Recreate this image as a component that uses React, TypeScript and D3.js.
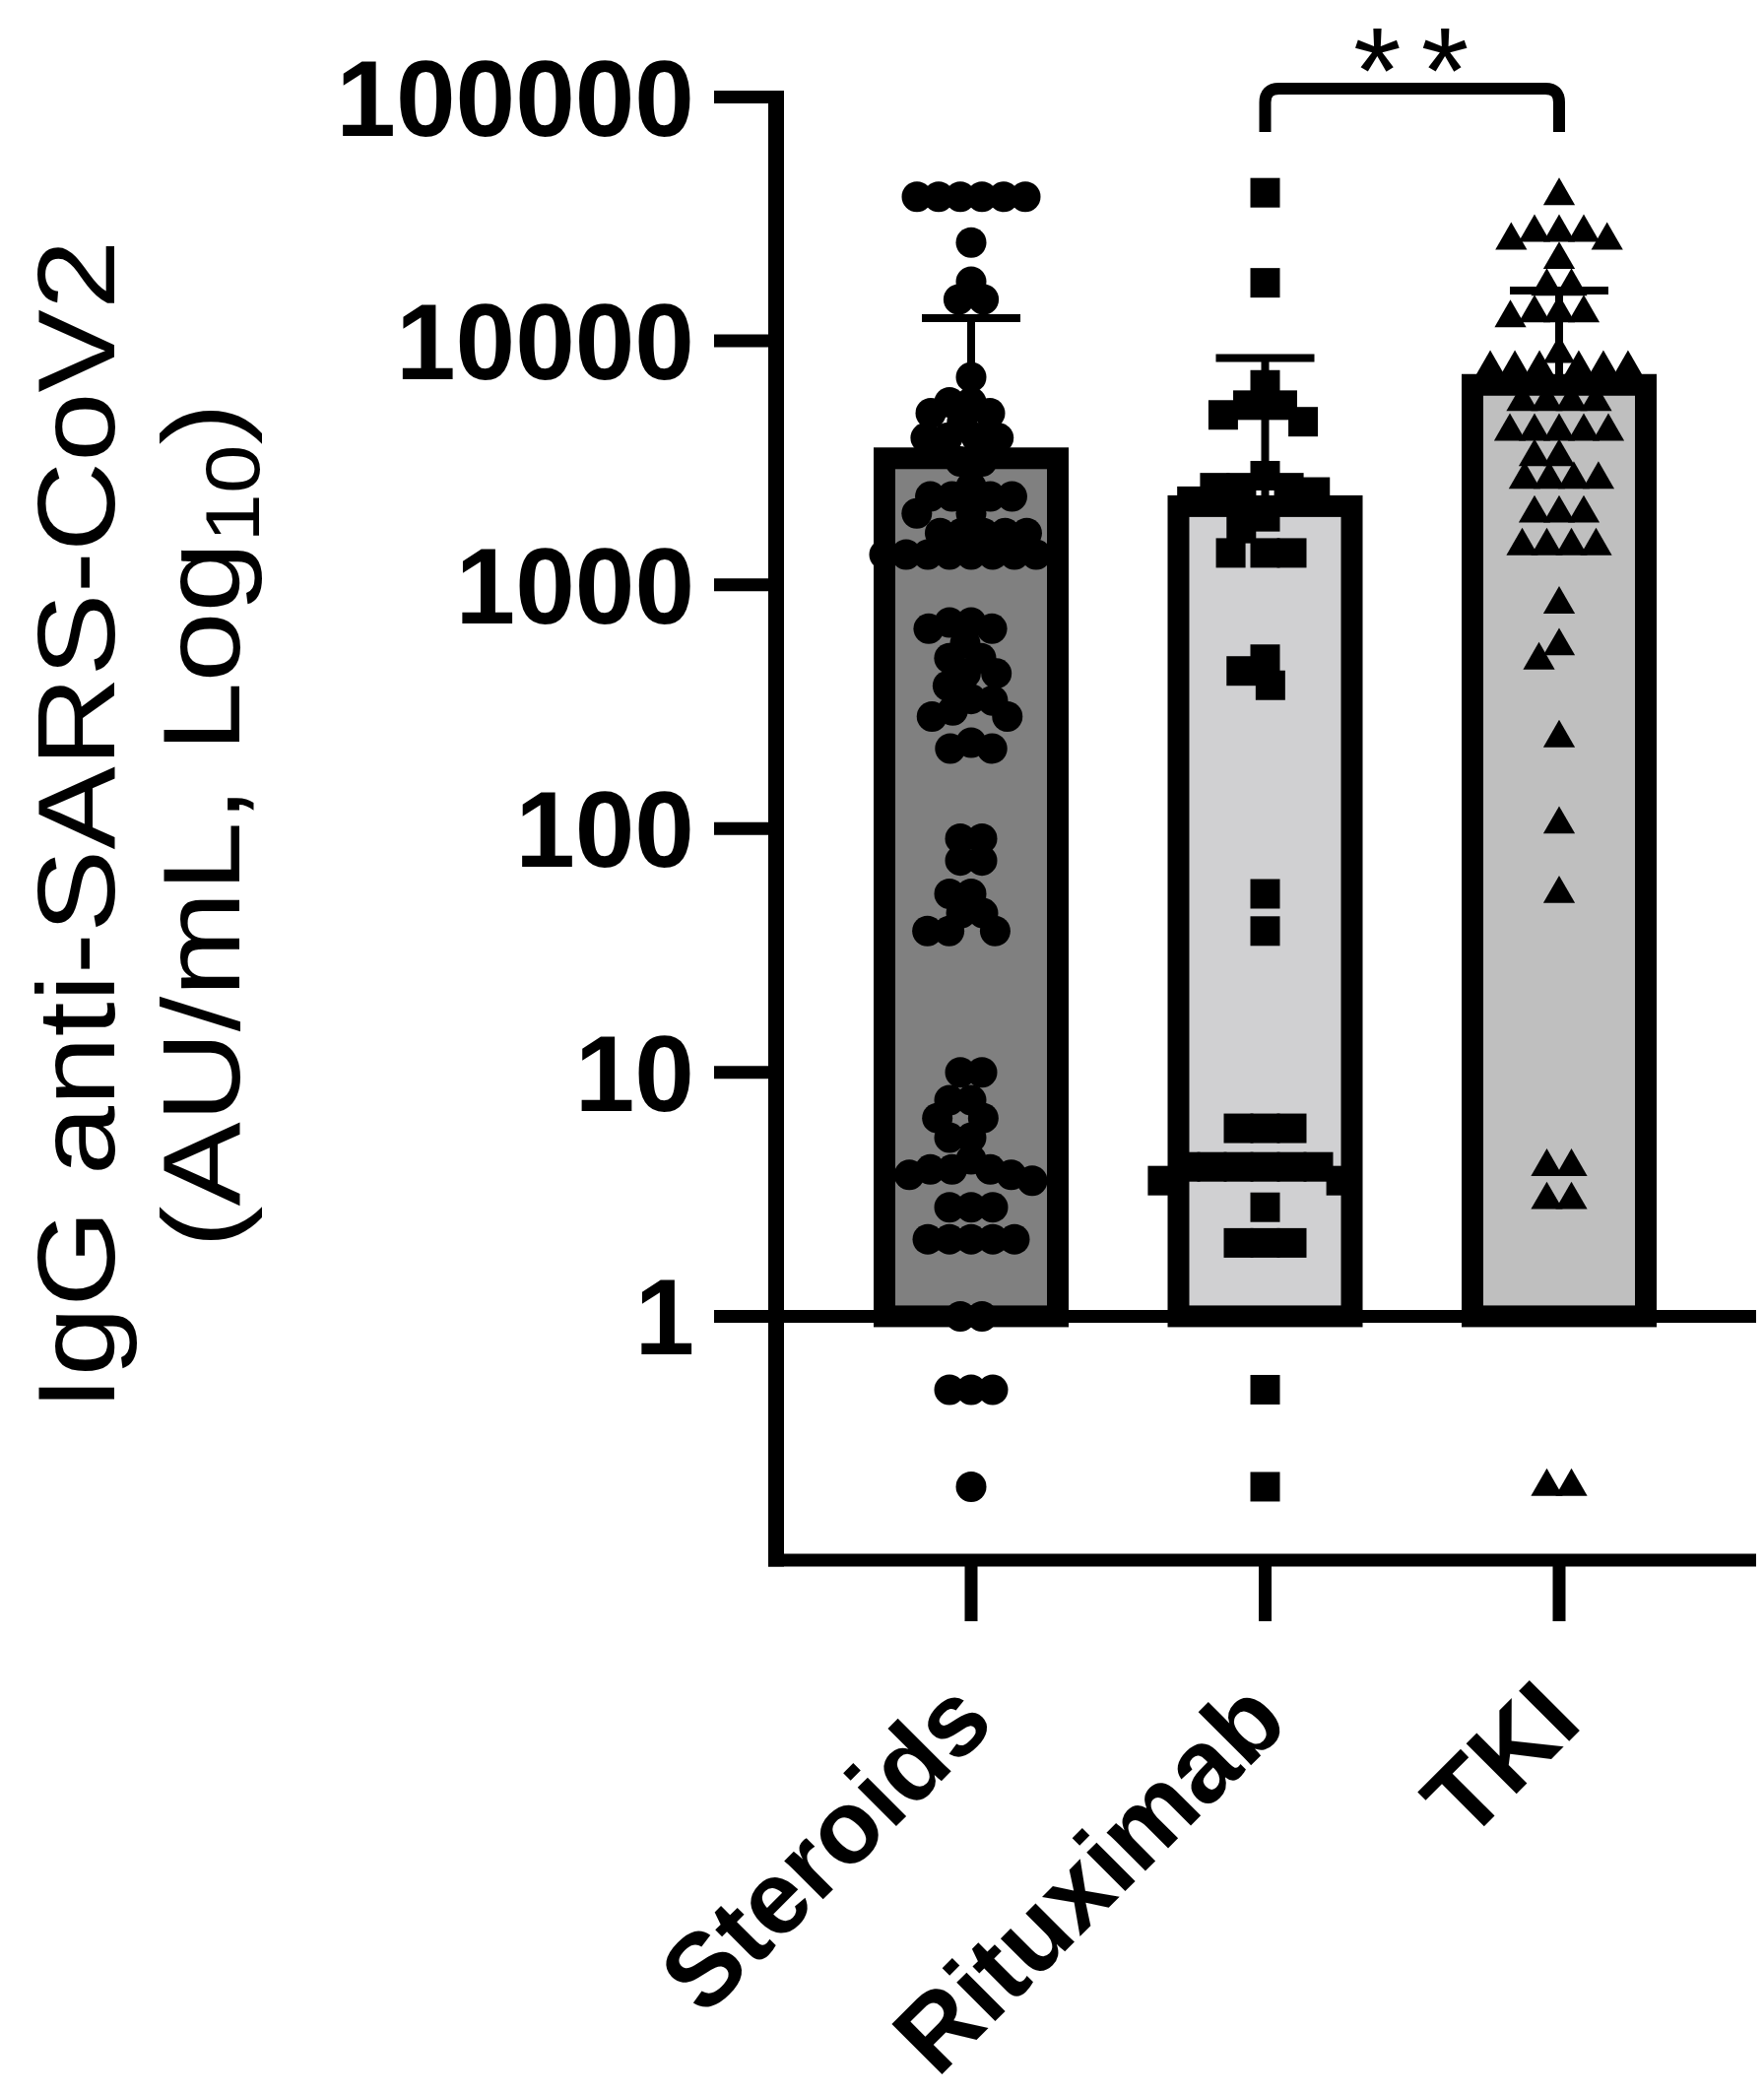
import React from 'react';
import * as d3 from 'd3';

// ---------- data ----------
const categories = ['Steroids', 'Rituximab', 'TKI'];

const steroidsValues = [
  39000, 39000, 39000, 39000, 39000, 39000,
  25300, 17500, 14800, 14800, 7100,
  5600, 5600, 5050, 5050, 4650, 4000, 4000, 4000, 4000, 3200, 3200,
  2530, 2300, 2300, 2300, 2300, 1960, 1960,
  1630, 1630, 1630, 1630, 1630,
  1330, 1330, 1330, 1330, 1330, 1330, 1330, 1330,
  700, 700, 660, 660,
  575, 500, 500, 433, 433, 385, 340, 335, 305, 288, 288, 225, 213, 213,
  91, 91, 74, 74, 54, 54, 45, 45, 38, 38, 38,
  10, 10, 7.7, 7.7, 6.5, 6.5, 5.4, 5.4, 4.4, 4.0, 4.0, 4.0, 3.8, 3.8, 3.6,
  2.8, 2.8, 2.8, 2.07, 2.07, 2.07, 2.07, 2.07,
  1, 1, 0.5, 0.5, 0.5, 0.2,
];

const rituximabValues = [
  40500, 17300,
  6600, 5450, 5450, 4970, 4660,
  2800, 2500, 2500, 2500, 2400, 2200,
  1900, 1700, 1350, 1350, 1350,
  495, 443, 387,
  54, 38,
  5.9, 5.9, 5.9, 4.1, 4.1, 4.1, 4.1, 4.1, 4.1, 3.6, 3.6, 2.8, 2.0, 2.0, 2.0,
  0.5, 0.2,
];

const tkiValues = [
  39300, 27800, 27800, 27800, 25800, 25800, 21500, 16700, 16700,
  13000, 13000, 13000, 12400, 8860,
  7700, 7700, 7700, 7700, 7700, 7700,
  5620, 5620, 5620, 5620,
  4250, 4250, 4250, 4250, 4250,
  3340, 3340,
  2700, 2700, 2700, 2700,
  1960, 1960, 1960,
  1440, 1440, 1440, 1440,
  830, 560, 490, 235, 104, 54,
  4.1, 4.1, 3.0, 3.0, 0.2, 0.2,
];

const groupValues = [steroidsValues, rituximabValues, tkiValues];
const barMeans = [3300, 2100, 6600];
const sdUpper = [12400, 8500, 16100];
const yTicks = [1, 10, 100, 1000, 10000, 100000];
const yDomain = [0.1, 100000];
const significance = { from: 'Rituximab', to: 'TKI', label: '**' };

// ---------- styles ----------
const FONT = '"Liberation Sans", Arial, Helvetica, sans-serif';
const barFills = ['#808080', '#d0d0d2', '#bfbfbf'];
const symbolTypes = [d3.symbolCircle, d3.symbolSquare, d3.symbolTriangle];
const symbolSizes = [Math.PI * 15.5 * 15.5, 30 * 30, 450];
const minDists = [22, 27, 25];

const W = 1791;
const H = 2126;

// simple compact beeswarm in pixel space
function beeswarm(ys: number[], minDist: number): number[] {
  const order = ys.map((y, i) => i).sort((a, b) => ys[a] - ys[b]);
  const xs = new Array(ys.length).fill(0);
  const placed: number[] = [];
  for (const i of order) {
    const y = ys[i];
    const cands = [0];
    for (const j of placed) {
      const dy = Math.abs(ys[j] - y);
      if (dy < minDist) {
        const dx = Math.sqrt(minDist * minDist - dy * dy);
        cands.push(xs[j] + dx, xs[j] - dx);
      }
    }
    const valid = cands.filter((cx) =>
      placed.every((j) => {
        const dx = xs[j] - cx;
        const dy = ys[j] - y;
        return dx * dx + dy * dy >= minDist * minDist - 0.01;
      })
    );
    valid.sort((a, b) => Math.abs(a) - Math.abs(b) || a - b);
    xs[i] = valid.length ? valid[0] : 0;
    placed.push(i);
  }
  // re-centre rows of identical values that are isolated from other values
  const byVal = d3.group(ys.map((y, i) => i), (i) => ys[i]);
  for (const [yv, idx] of byVal) {
    if (idx.length < 2) continue;
    const isolated = ys.every((y, k) => idx.includes(k) || Math.abs(y - yv) >= minDist);
    if (isolated) {
      const m = d3.mean(idx, (k) => xs[k]) as number;
      idx.forEach((k) => (xs[k] -= m));
    }
  }
  return xs;
}

export default function App() {
  const y = d3.scaleLog().domain(yDomain).range([1584, 98.5]);
  const x = d3.scalePoint<string>().domain(categories).range([986, 1583]);
  const barW = 176;

  const axisX = 788;
  const axisBottom = y(yDomain[0]);
  const rightEnd = 1783;

  const b1 = x(significance.from) as number;
  const b2 = x(significance.to) as number;
  const by = 90;
  const bLeg = 134;
  const r = 14;

  return (
    <svg
      width={W}
      height={H}
      viewBox={`0 0 ${W} ${H}`}
      style={{ position: 'absolute', left: 0, top: 0, background: '#fff' }}
      fontFamily={FONT}
    >
      <rect x={0} y={0} width={W} height={H} fill="#fff" />

      {/* bars */}
      {categories.map((c, i) => {
        const cx = x(c) as number;
        const top = y(barMeans[i]);
        return (
          <rect
            key={c}
            x={cx - barW / 2}
            y={top}
            width={barW}
            height={y(1) - top}
            fill={barFills[i]}
            stroke="#000"
            strokeWidth={22}
          />
        );
      })}

      {/* baseline at 1 */}
      <line x1={axisX} x2={rightEnd} y1={y(1)} y2={y(1)} stroke="#000" strokeWidth={13} />

      {/* points */}
      {categories.map((c, i) => {
        const cx = x(c) as number;
        const ys = groupValues[i].map((v) => y(v));
        const xs = beeswarm(ys, minDists[i]);
        const sym = d3.symbol().type(symbolTypes[i]).size(symbolSizes[i]);
        const d = sym() as string;
        return (
          <g key={c}>
            {ys.map((py, k) => (
              <path key={k} d={d} transform={`translate(${cx + xs[k]},${py})`} fill="#000" />
            ))}
          </g>
        );
      })}

      {/* error bars (upper SD) */}
      {categories.map((c, i) => {
        const cx = x(c) as number;
        return (
          <g key={c} stroke="#000" strokeWidth={8}>
            <line x1={cx} x2={cx} y1={y(barMeans[i])} y2={y(sdUpper[i])} />
            <line x1={cx - 50} x2={cx + 50} y1={y(sdUpper[i])} y2={y(sdUpper[i])} />
          </g>
        );
      })}

      {/* y axis */}
      <line x1={axisX} x2={axisX} y1={y(yDomain[1]) - 6.5} y2={axisBottom + 6.5} stroke="#000" strokeWidth={16} />
      {yTicks.map((t) => (
        <g key={t}>
          <line x1={725} x2={axisX} y1={y(t)} y2={y(t)} stroke="#000" strokeWidth={13} />
          <text
            x={705}
            y={y(t)}
            dy="0.358em"
            textAnchor="end"
            fontSize={109}
            fontWeight="bold"
          >
            {String(t)}
          </text>
        </g>
      ))}

      {/* x axis */}
      <line x1={axisX - 8} x2={rightEnd} y1={axisBottom} y2={axisBottom} stroke="#000" strokeWidth={13} />
      {categories.map((c) => {
        const cx = x(c) as number;
        return (
          <g key={c}>
            <line x1={cx} x2={cx} y1={axisBottom} y2={1646} stroke="#000" strokeWidth={13} />
            <text
              transform={`translate(${cx + 26},1752) rotate(-45)`}
              textAnchor="end"
              fontSize={105}
              fontWeight="bold"
            >
              {c}
            </text>
          </g>
        );
      })}

      {/* y axis title */}
      <text transform="translate(116,838) rotate(-90) scale(1.13,1)" textAnchor="middle" fontSize={112}>
        IgG anti-SARS-CoV2
      </text>
      <text transform="translate(243,838) rotate(-90) scale(1.14,1)" textAnchor="middle" fontSize={112}>
        (AU/mL, Log
        <tspan fontSize={78} dy={20}>10</tspan>
        <tspan dy={-20}>)</tspan>
      </text>

      {/* significance bracket */}
      <path
        d={`M${b1},${bLeg} V${by + r} Q${b1},${by} ${b1 + r},${by} H${b2 - r} Q${b2},${by} ${b2},${by + r} V${bLeg}`}
        fill="none"
        stroke="#000"
        strokeWidth={12}
      />
      <text x={(b1 + b2) / 2 + 9} y={115} textAnchor="middle" fontSize={125} letterSpacing={20}>
        {significance.label}
      </text>
    </svg>
  );
}
